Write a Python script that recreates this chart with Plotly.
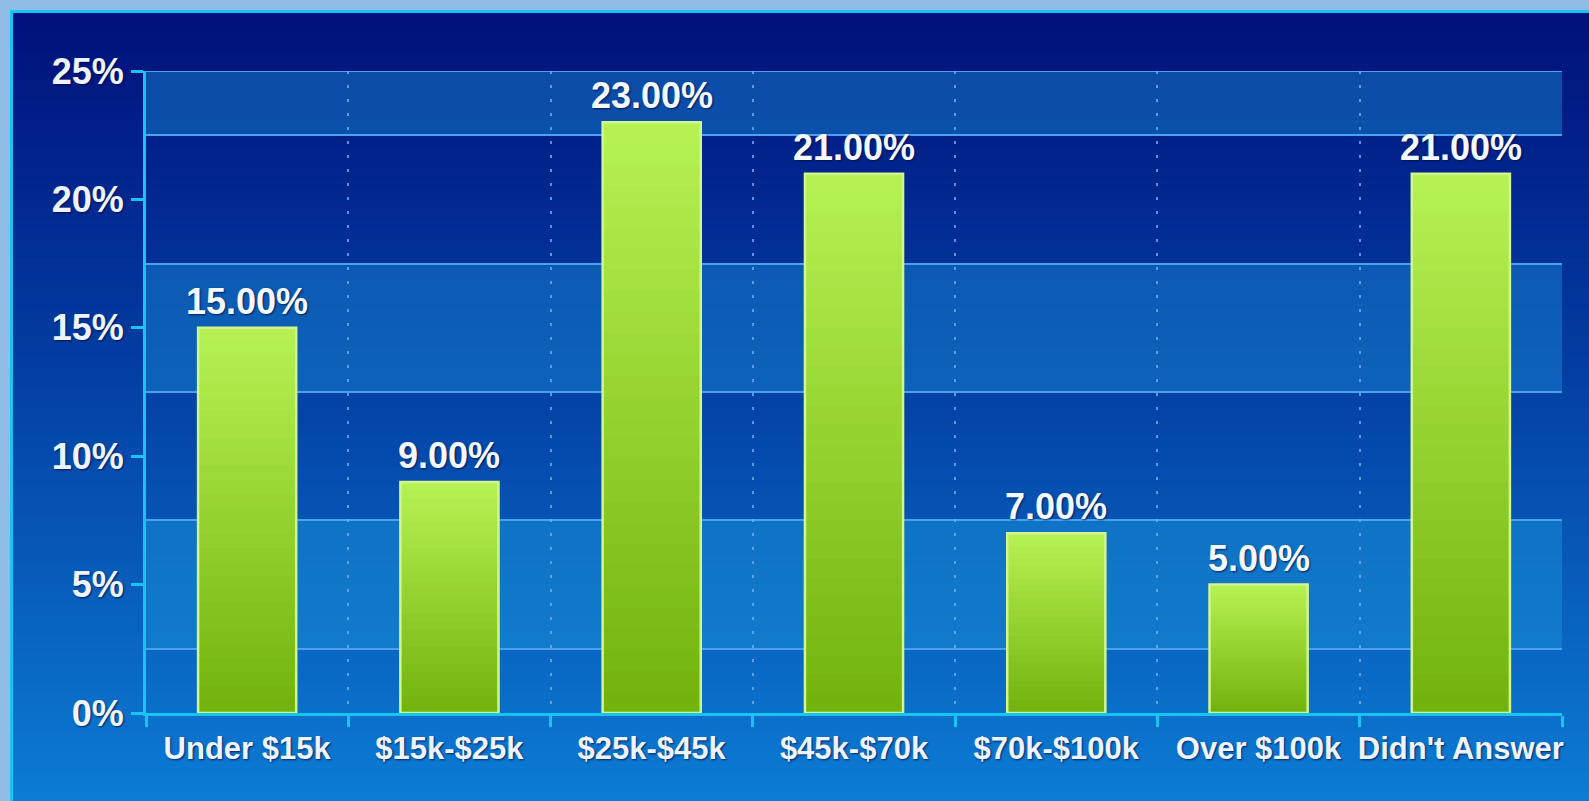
import plotly.graph_objects as go

# Survey: household income distribution
categories = ["Under $15k", "$15k-$25k", "$25k-$45k", "$45k-$70k",
              "$70k-$100k", "Over $100k", "Didn't Answer"]
shares = [15, 9, 23, 21, 7, 5, 21]
y_ticks = [0, 5, 10, 15, 20, 25]
y_tick_text = ["0%", "5%", "10%", "15%", "20%", "25%"]

W, H = 1589, 801
L, R, T, B = 146, 27, 71, 88
PW, PH = W - L - R, H - T - B


def px_x(x):
    return (x - L) / PW


def px_y(y):
    return (H - B - y) / PH


def lerp(c1, c2, t):
    return tuple(round(a + (b - a) * t) for a, b in zip(c1, c2))


def rgb(c):
    return "rgb(%d,%d,%d)" % c


def gradient(stops, t):
    for (t0, c0), (t1, c1) in zip(stops, stops[1:]):
        if t <= t1:
            return lerp(c0, c1, (t - t0) / (t1 - t0) if t1 > t0 else 0)
    return stops[-1][1]


shapes = []

# panel background: dark navy at the top fading into bright blue
panel_stops = [(0.0, (0, 16, 124)), (0.45, (3, 62, 162)), (1.0, (12, 124, 212))]
top_px, n_strips = 11, 80
step = (H - top_px) / n_strips
for i in range(n_strips):
    y0 = top_px + i * step
    y1 = min(y0 + step + 3, H + 2)
    c = gradient(panel_stops, (i + 0.5) / n_strips)
    shapes.append(dict(type="rect", xref="paper", yref="paper", layer="below",
                       x0=px_x(11), x1=px_x(W + 2), y0=px_y(y1), y1=px_y(y0),
                       fillcolor=rgb(c), line=dict(width=0)))

# cyan frame along the panel's top and left edges
shapes.append(dict(type="line", xref="paper", yref="paper", layer="below",
                   x0=px_x(11), x1=px_x(W + 2), y0=px_y(11.5), y1=px_y(11.5),
                   line=dict(color="#18c4f4", width=3)))
shapes.append(dict(type="line", xref="paper", yref="paper", layer="below",
                   x0=px_x(11.5), x1=px_x(11.5), y0=px_y(10), y1=px_y(H + 2),
                   line=dict(color="#18c4f4", width=3)))

# lighter horizontal bands inside the plot area
for lo, hi, a in [(22.5, 25, 0.45), (12.5, 17.5, 0.45), (2.5, 7.5, 0.55)]:
    shapes.append(dict(type="rect", xref="x domain", yref="y", layer="below",
                       x0=0, x1=1, y0=lo, y1=hi,
                       fillcolor="rgba(24,140,212,%.2f)" % a, line=dict(width=0)))

# top border of the plot area
shapes.append(dict(type="line", xref="x domain", yref="y", layer="below",
                   x0=0, x1=1, y0=25, y1=25,
                   line=dict(color="#4aa2ee", width=2)))

fig = go.Figure()

# vertical gradient on each bar: stacked overlays, light on top, dark at the base
bar_top = (182, 242, 84)
bar_base = (114, 178, 12)
n_levels = 28
bar_w = 0.485
for k in range(n_levels):
    frac = 1 - k / n_levels
    mid = 1 - (k + 0.5) / n_levels
    col = lerp(bar_base, bar_top, mid)
    fig.add_trace(go.Bar(
        x=categories, y=[v * frac for v in shares], width=bar_w,
        marker=dict(color=rgb(col), line=dict(width=0)),
        hoverinfo="skip", showlegend=False))

# pale outline around every bar
fig.add_trace(go.Bar(
    x=categories, y=shares, width=bar_w,
    marker=dict(color="rgba(0,0,0,0)", line=dict(color="#d2f68e", width=2.5)),
    hovertemplate="%{x}: %{y:.2f}%<extra></extra>", showlegend=False))

shadow = "1px 1px 2px rgba(0,10,60,0.75)"

annotations = [
    dict(x=c, y=v, xref="x", yref="y", text=f"{v:.2f}%", showarrow=False,
         yanchor="bottom", yshift=4,
         font=dict(family="Liberation Sans, Arial, sans-serif", size=36,
                   color="#f4f8ff", weight="bold", shadow=shadow))
    for c, v in zip(categories, shares)
]

fig.update_layout(
    width=W, height=H,
    margin=dict(l=L, r=R, t=T, b=B, pad=0, autoexpand=False),
    paper_bgcolor="#8fbde6",
    plot_bgcolor="rgba(0,0,0,0)",
    barmode="overlay",
    shapes=shapes,
    annotations=annotations,
    font=dict(family="Liberation Sans, Arial, sans-serif"),
    xaxis=dict(
        type="category", categoryorder="array", categoryarray=categories,
        range=[-0.5, 6.5], tickson="boundaries", tickangle=0, automargin=False,
        ticks="outside", ticklen=11, tickwidth=3, tickcolor="#18c4f4",
        ticklabelstandoff=6,
        showline=True, linecolor="#18c4f4", linewidth=3,
        showgrid=True, gridcolor="rgba(110,175,240,0.8)", gridwidth=2,
        griddash="3px,11px",
        tickfont=dict(size=31, color="#eef4ff", weight="bold", shadow=shadow),
        fixedrange=True,
    ),
    yaxis=dict(
        range=[0, 25], tickmode="array", tickvals=y_ticks, ticktext=y_tick_text,
        automargin=False,
        ticks="outside", ticklen=12, tickwidth=3, tickcolor="#18c4f4",
        showline=True, linecolor="#18c4f4", linewidth=3,
        showgrid=False, zeroline=False,
        minor=dict(tickmode="array", tickvals=[2.5, 7.5, 12.5, 17.5, 22.5],
                   showgrid=True, gridcolor="#4aa2ee", gridwidth=2, ticks=""),
        tickfont=dict(size=36, color="#eef4ff", weight="bold", shadow=shadow),
        fixedrange=True,
    ),
)

fig.write_html("out.html")
